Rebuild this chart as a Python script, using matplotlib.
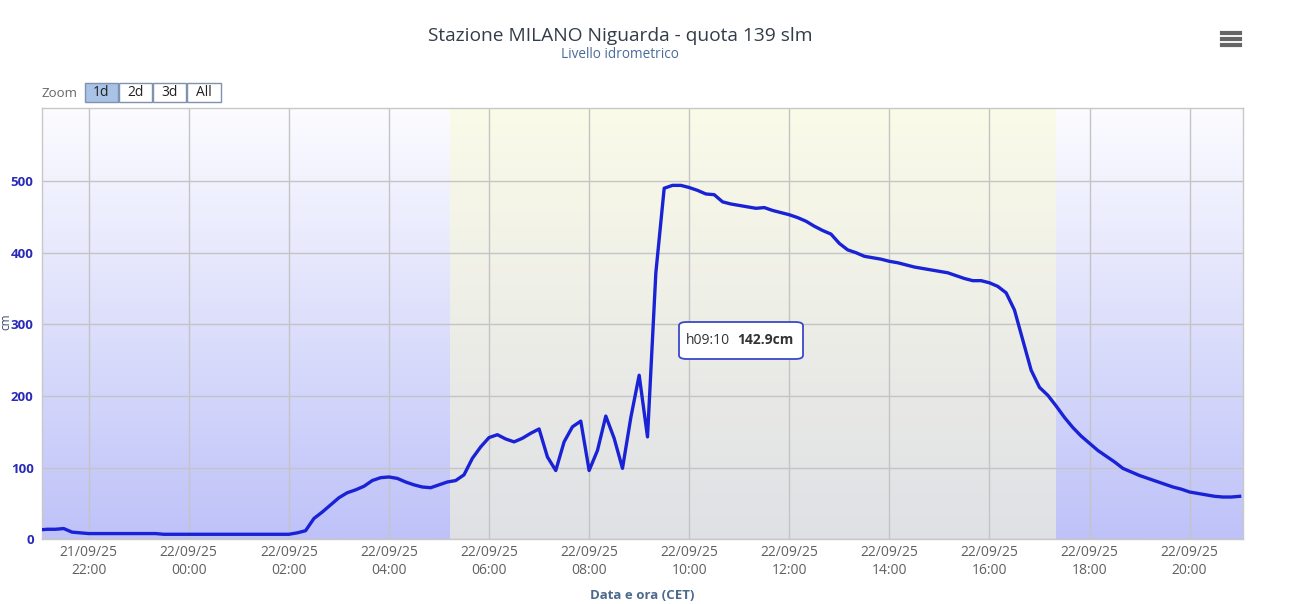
import numpy as np
import pandas as pd
import matplotlib.pyplot as plt
import matplotlib.dates as mdates
from matplotlib.patches import FancyBboxPatch, Rectangle
from matplotlib.lines import Line2D

plt.rcParams['font.family'] = ['Open Sans', 'DejaVu Sans']

# livello idrometrico (cm), un valore ogni 10 minuti dalle 21:00 del 21/09/25
inizio = '2025-09-21 21:00'
livello = [13, 14, 14, 15, 10, 9, 8,
           8, 8, 8, 8, 8, 8, 8, 8,
           7, 7, 7, 7, 7, 7, 7, 7, 7, 7, 7, 7, 7, 7, 7, 7,
           9, 12, 29, 38, 48, 58, 65, 69, 74, 82, 86, 87, 85, 80, 76, 73, 72, 76, 80,
           82, 90, 113, 129, 142, 146, 140, 136, 141, 148,
           154, 115, 96, 136, 157, 165, 96, 124, 172, 141,
           99, 170, 229, 142.9, 372, 490, 494, 494, 491, 487,
           482, 481, 471, 468, 466, 464, 462, 463, 459, 456,
           453, 449, 444, 437, 431, 426, 413, 404, 400, 395,
           393, 391, 388, 386, 383, 380, 378, 376, 374, 372,
           368, 364, 361, 361, 358, 353, 344, 320, 278, 236,
           212, 201, 186, 170, 156, 144, 134, 124, 116, 108,
           99, 94, 89, 85, 81, 77, 73, 70, 66, 64,
           62, 60, 59, 59, 60]
tempi = pd.date_range(inizio, periods=len(livello), freq='10min')

# fascia diurna (alba - tramonto)
alba = pd.Timestamp('2025-09-22 05:13')
tramonto = pd.Timestamp('2025-09-22 17:20')
x_min = pd.Timestamp('2025-09-21 21:04')
x_max = pd.Timestamp('2025-09-22 21:04')

y_ticks = [0, 100, 200, 300, 400, 500]

W, H = 1290, 604
fig = plt.figure(figsize=(W / 100, H / 100), dpi=100)
ax = fig.add_axes([42 / W, (H - 539.3) / H, 1201 / W, 431.3 / H])

# sfondo a gradiente
top = np.array([252, 252, 255]) / 255
bot = np.array([190, 194, 248]) / 255
t = np.linspace(0, 1, 256)[:, None]
grad = (top * (1 - t) + bot * t)[:, None, :]
ax.imshow(grad, extent=[0, 1, 0, 1], transform=ax.transAxes, aspect='auto', zorder=0)
ax.axvspan(alba, tramonto, color=(0.98, 0.98, 0.84), alpha=0.55, lw=0, zorder=1)

ax.plot(tempi, livello, color='#1a22d6', lw=2.4, zorder=3, solid_joinstyle='round')

ax.set_xlim(x_min, x_max)
ax.set_ylim(0, 602)
ax.set_yticks(y_ticks)
ax.xaxis.set_major_locator(mdates.HourLocator(byhour=range(0, 24, 2)))
ax.xaxis.set_major_formatter(mdates.DateFormatter('%d/%m/%y\n%H:%M'))
ax.grid(True, color='#c4c4c4', lw=1, zorder=2)
for gl in ax.get_xgridlines() + ax.get_ygridlines():
    gl.set_zorder(2)
ax.tick_params(axis='x', length=0, pad=4, labelsize=10, labelcolor='#606060')
ax.tick_params(axis='y', length=0, pad=6, labelsize=9.5, labelcolor='#2a2ab8')
for lab in ax.get_xticklabels():
    lab.set_linespacing(1.25)
for lab in ax.get_yticklabels():
    lab.set_fontweight('bold')
for s in ax.spines.values():
    s.set_color('#c8c8c8')
    s.set_linewidth(1)

ax.set_xlabel('Data e ora (CET)', fontsize=9.5, fontweight='bold', color='#4d6a8d', labelpad=8)
fig.text(6 / W, 1 - 322 / H, 'cm', rotation=90, ha='center', va='center',
         fontsize=8.5, color='#3a4a6a')

# titoli
fig.text(620 / W, 1 - 36 / H, 'Stazione MILANO Niguarda - quota 139 slm',
         ha='center', va='center', fontsize=13.8, color='#333d4a')
fig.text(620 / W, 1 - 55 / H, 'Livello idrometrico', ha='center', va='center',
         fontsize=9.8, color='#4a6a9a')

# pulsanti zoom
fig.text(42 / W, 1 - 93 / H, 'Zoom', ha='left', va='center', fontsize=9.5, color='#666666')
bottoni = ['1d', '2d', '3d', 'All']
bx = [85, 119, 153, 187]
bw = [33, 33, 33, 34]
for lab, x0, w in zip(bottoni, bx, bw):
    fc = '#a9c3e6' if lab == '1d' else '#ffffff'
    fig.patches.append(Rectangle((x0 / W, 1 - 102 / H), w / W, 19 / H,
                                 transform=fig.transFigure, fc=fc, ec='#7f93b0', lw=1))
    fig.text((x0 + w / 2) / W, 1 - 92.5 / H, lab, ha='center', va='center',
             fontsize=10, color='#222222')

# menu
for yy in [33, 39, 45]:
    fig.add_artist(Line2D([1222 / W, 1240 / W], [1 - yy / H, 1 - yy / H],
                          transform=fig.transFigure, color='#666666', lw=3))

# tooltip
fig.patches.append(FancyBboxPatch((679 / W, 1 - 359 / H), 124 / W, 37 / H,
                                  boxstyle='round,pad=0,rounding_size=0.006',
                                  transform=fig.transFigure, fc='white',
                                  ec='#3a48c8', lw=1.3, zorder=5))
fig.text(686 / W, 1 - 340 / H, 'h09:10', ha='left', va='center', fontsize=10,
         color='#333333', zorder=6)
fig.text(737 / W, 1 - 340 / H, '142.9cm', ha='left', va='center', fontsize=10,
         fontweight='bold', color='#333333', zorder=6)

fig.savefig('out.png', dpi=100)
